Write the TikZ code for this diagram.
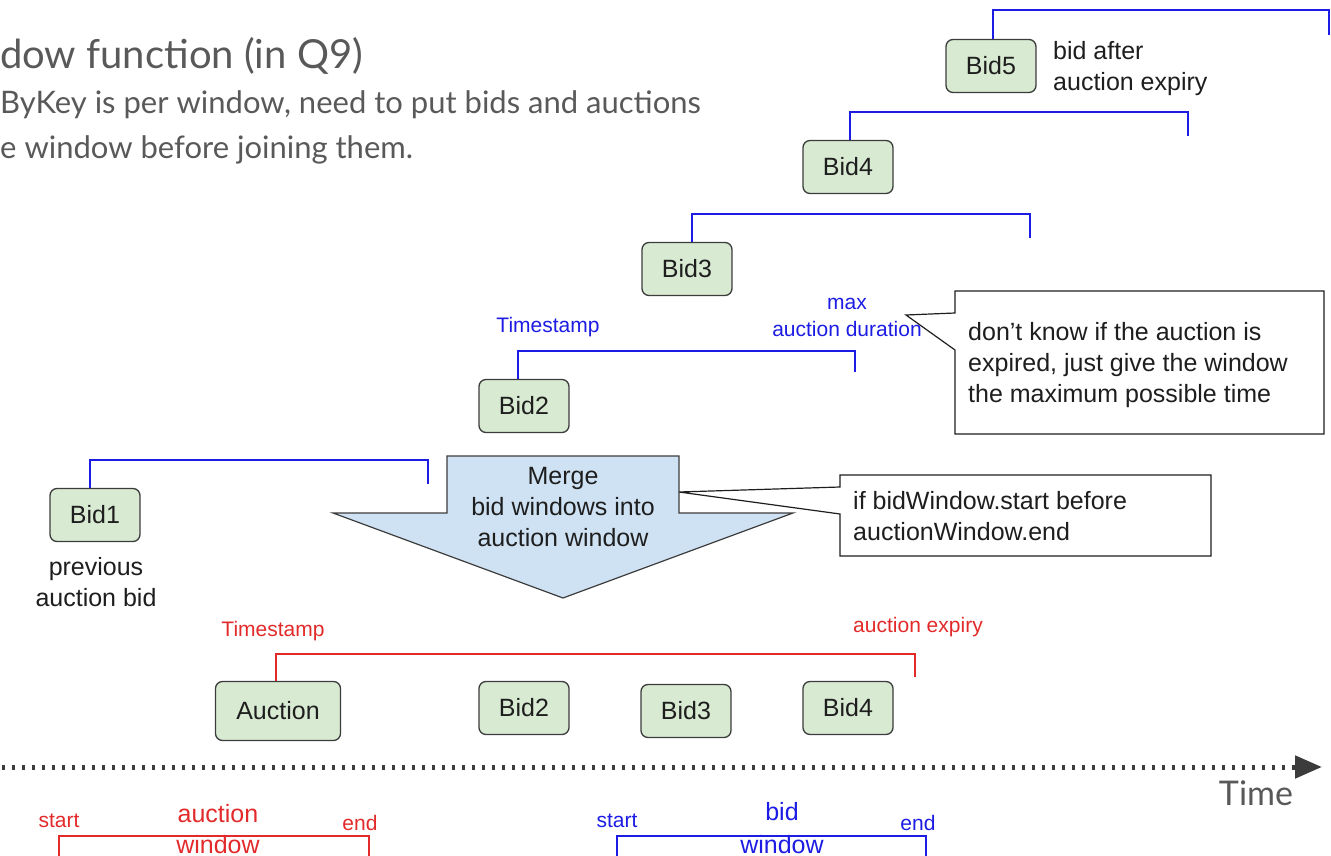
\documentclass[tikz,border=0pt]{standalone}
\usepackage{fontspec}
\setmainfont{Liberation Sans}
\newfontfamily\latofont{Lato}
\usetikzlibrary{arrows.meta}

\definecolor{boxfill}{RGB}{217,234,211}
\definecolor{boxline}{RGB}{60,60,60}
\definecolor{mergefill}{RGB}{207,226,243}
\definecolor{winblue}{RGB}{28,28,228}
\definecolor{winred}{RGB}{226,42,42}
\definecolor{headgray}{RGB}{89,89,89}
\definecolor{axisgray}{RGB}{60,60,60}
\definecolor{ink}{RGB}{30,30,30}

\newcommand\fsz[2]{\fontsize{#1}{#2}\selectfont}

\begin{document}
\begin{tikzpicture}[x=1pt,y=-1pt,
  eventbox/.style={draw=boxline, fill=boxfill, rounded corners=7pt, line width=1.3pt,
    minimum width=90pt, minimum height=53pt, inner sep=0pt, text=ink, font=\fsz{25}{30}},
  plaintext/.style={inner sep=0pt, text=ink, align=left, font=\fsz{25}{31}},
  headtext/.style={inner sep=0pt, text=headgray, anchor=base west},
  bluewin/.style={draw=winblue, line width=2.5pt},
  redwin/.style={draw=winred, line width=2.5pt},
  bluelabel/.style={inner sep=0pt, text=winblue, align=center, font=\fsz{21}{27}},
  redlabel/.style={inner sep=0pt, text=winred, align=center, font=\fsz{21}{27}},
  biglabel/.style={font=\fsz{25}{31}, anchor=base},
  calloutbox/.style={draw=ink, fill=white, line width=1.2pt, line join=miter},
  mergearrow/.style={draw=boxline, fill=mergefill, line width=1.2pt},
  timeaxis/.style={draw=axisgray, line width=5pt, dash pattern=on 2.5pt off 7.5pt,
    -{Triangle[length=27pt,width=22pt]}}
]
\useasboundingbox (0,0) rectangle (1331,856);

% heading
\node[headtext, font=\latofont\fsz{40}{46}] (title) at (0,69) {dow function (in Q9)};
\node[headtext, font=\latofont\fsz{31}{37}] (sub1) at (0,114) {ByKey is per window, need to put bids and auctions};
\node[headtext, font=\latofont\fsz{31}{37}] (sub2) at (0,159) {e window before joining them.};

% bids with their windows
\node[eventbox] (bid5) at (991,66) {Bid5};
\node[eventbox] (bid4) at (848,167) {Bid4};
\node[eventbox] (bid3) at (687,269) {Bid3};
\node[eventbox] (bid2) at (524,406) {Bid2};
\node[eventbox] (bid1) at (95,515) {Bid1};

\coordinate (w5end) at (1329,35);
\coordinate (w4end) at (1188,136);
\coordinate (w3end) at (1030,238);
\coordinate (w2end) at (855,372);
\coordinate (w1end) at (428,484);

\draw[bluewin] ([xshift=2pt]bid5.north) -- ++(0,-29) -| (w5end);
\draw[bluewin] ([xshift=2pt]bid4.north) -- ++(0,-28) -| (w4end);
\draw[bluewin] ([xshift=5pt]bid3.north) -- ++(0,-28) -| (w3end);
\draw[bluewin] ([xshift=-6pt]bid2.north) -- ++(0,-28) -| (w2end);
\draw[bluewin] ([xshift=-5pt]bid1.north) -- ++(0,-28) -| (w1end);

\node[plaintext, anchor=west] (late) at (1053,69) {bid after\\auction expiry};
\node[plaintext, align=center] (prev) at (96,582) {previous\\auction bid};

\node[bluelabel] (ts) at (548,327) {Timestamp};
\node[bluelabel] (maxdur) at (847,317) {max\\auction duration};

% note on the maximum window
\draw[calloutbox] (955,291) -- (1324,291) -- (1324,434) -- (955,434) -- (955,350)
  -- (906,315) -- (955,313) -- cycle;
\node[plaintext, anchor=west] (note1) at (968,365)
  {don’t know if the auction is\\expired, just give the window\\the maximum possible time};

% merge step
\draw[mergearrow] (447,456) -- (679,456) -- (679,513) -- (793,513) -- (563,598)
  -- (333,513) -- (447,513) -- cycle;
\node[plaintext, align=center] (merge) at (563,507) {Merge\\bid windows into\\auction window};

\draw[calloutbox] (840,475) -- (1211,475) -- (1211,556) -- (840,556) -- (840,514)
  -- (679,492) -- (840,487) -- cycle;
\node[plaintext, anchor=west] (note2) at (853,516) {if bidWindow.start before\\auctionWindow.end};

% auction window after merging
\node[eventbox, minimum width=125pt, minimum height=59pt] (auction) at (278,711) {Auction};
\node[eventbox] (mb2) at (524,708) {Bid2};
\node[eventbox] (mb3) at (686,711) {Bid3};
\node[eventbox] (mb4) at (848,708) {Bid4};

\coordinate (awend) at (915,677);
\draw[redwin] ([xshift=-2pt]auction.north) -- ++(0,-27) -| (awend);
\node[redlabel] (ats) at (273,631) {Timestamp};
\node[redlabel] (aexp) at (918,627) {auction expiry};

% time axis
\coordinate (t0) at (2,767);
\coordinate (t1) at (1322,767);
\draw[timeaxis] (t0) -- (t1);
\node[inner sep=0pt, text=headgray, font=\latofont\fsz{34}{40}] (time) at (1256,793) {Time};

% legend
\coordinate (la0) at (59,858);
\coordinate (la1) at (369,858);
\draw[redwin] (la0) -- (59,836) -- (369,836) -- (la1);
\node[redlabel] (lastart) at (59,821) {start};
\node[redlabel] (laend) at (360,823) {end};
\node[redlabel, biglabel] (lawin1) at (218,822) {auction};
\node[redlabel, biglabel] (lawin2) at (218,853) {window};

\coordinate (lb0) at (617,858);
\coordinate (lb1) at (926,858);
\draw[bluewin] (lb0) -- (617,836) -- (926,836) -- (lb1);
\node[bluelabel] (lbstart) at (617,821) {start};
\node[bluelabel] (lbend) at (918,823) {end};
\node[bluelabel, biglabel] (lbwin1) at (782,820) {bid};
\node[bluelabel, biglabel] (lbwin2) at (782,853) {window};
\end{tikzpicture}
\end{document}
